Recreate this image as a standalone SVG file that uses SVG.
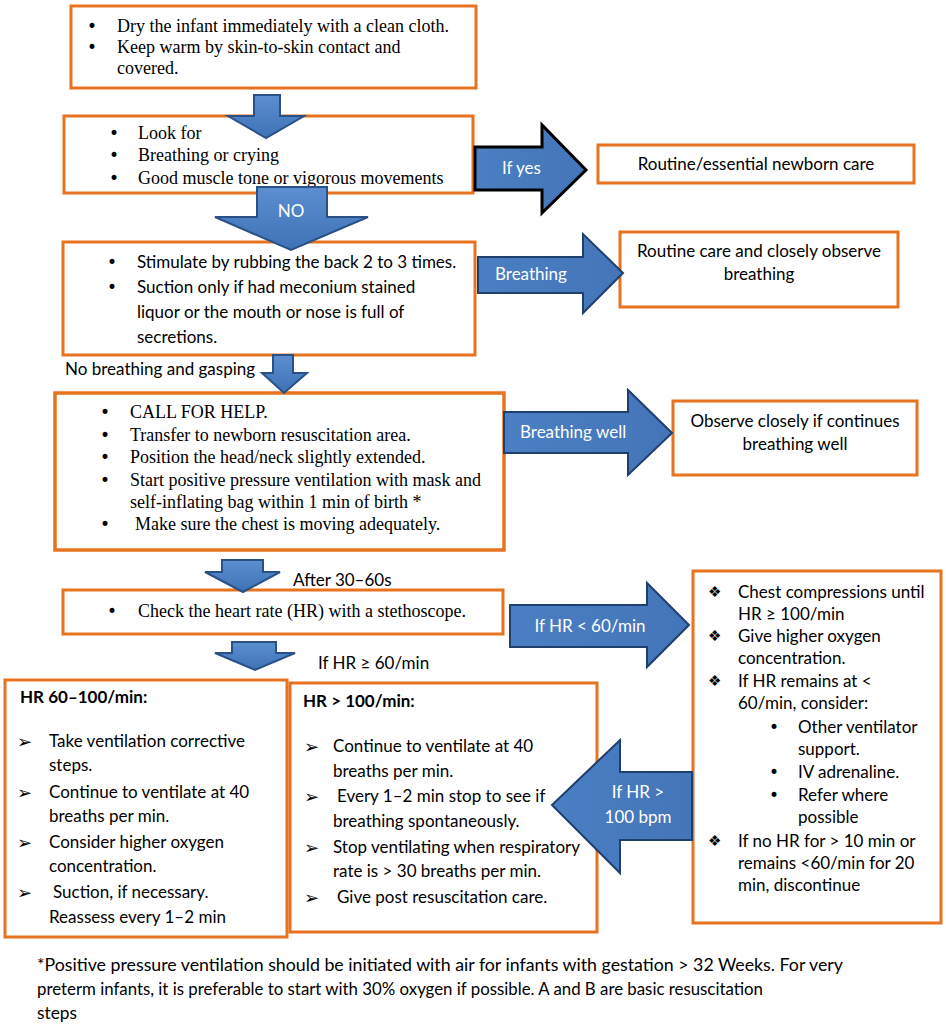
<svg xmlns="http://www.w3.org/2000/svg" width="946" height="1029" viewBox="0 0 946 1029">
<defs>
<linearGradient id="g" x1="0" y1="0" x2="0" y2="1">
<stop offset="0" stop-color="#5b8fd2"/>
<stop offset="1" stop-color="#3f72b4"/>
</linearGradient>
<linearGradient id="gh" x1="0" y1="0" x2="1" y2="0">
<stop offset="0" stop-color="#4a7fc3"/>
<stop offset="1" stop-color="#4475b8"/>
</linearGradient>
</defs>
<style>
.box{fill:#fff;stroke:#e8731f;stroke-width:3}
.ser{font-family:"Liberation Serif","Times New Roman",serif;font-size:18px;fill:#000}
.san{font-family:Lato,"Liberation Sans",Arial,sans-serif;font-size:17px;fill:#000}
.b{font-weight:bold}
.c{text-anchor:middle}
.lbl{font-family:Lato,"Liberation Sans",Arial,sans-serif;font-size:17px;fill:#fff}
.bul{font-family:"DejaVu Sans",sans-serif;font-size:17px;fill:#000}
.sym{font-family:"DejaVu Sans",sans-serif;font-size:15px;fill:#000}
.arr{font-family:"DejaVu Sans",sans-serif;font-size:18px;fill:#000}
.arw{fill:url(#g);stroke:#2a5186;stroke-width:2}
.arh{fill:url(#gh);stroke:#1f3f6e;stroke-width:2}
.foot{font-family:Lato,"Liberation Sans",Arial,sans-serif;font-size:17px;fill:#000}
</style>
<rect width="946" height="1029" fill="#fff"/>

<g id="n1">
<rect class="box" x="71" y="6" width="405" height="82"/>
<text class="bul" x="87" y="32">•</text><text class="ser" x="117" y="32">Dry the infant immediately with a clean cloth.</text>
<text class="bul" x="87" y="53">•</text><text class="ser" x="117" y="53">Keep warm by skin-to-skin contact and</text>
<text class="ser" x="117" y="74">covered.</text>
</g>

<g id="n2">
<rect class="box" x="64" y="116" width="409" height="77"/>
<text class="bul" x="109" y="139">•</text><text class="ser" x="138" y="139">Look for</text>
<text class="bul" x="109" y="161">•</text><text class="ser" x="138" y="161">Breathing or crying</text>
<text class="bul" x="109" y="184">•</text><text class="ser" x="138" y="184">Good muscle tone or vigorous movements</text>
</g>

<g id="n_routine">
<rect class="box" x="598" y="145" width="316" height="38"/>
<text class="san c" x="756" y="170">Routine/essential newborn care</text>
</g>

<g id="n3">
<rect class="box" x="63" y="242" width="412" height="113"/>
<text class="bul" x="107" y="268">•</text><text class="san" x="137" y="268">Stimulate by rubbing the back 2 to 3 times.</text>
<text class="bul" x="107" y="293">•</text><text class="san" x="137" y="293">Suction only if had meconium stained</text>
<text class="san" x="137" y="318">liquor or the mouth or nose is full of</text>
<text class="san" x="137" y="343">secretions.</text>
</g>

<g id="n_observe_breathing">
<rect class="box" x="620" y="232" width="278" height="75"/>
<text class="san c" x="759" y="257">Routine care and closely observe</text>
<text class="san c" x="759" y="280">breathing</text>
</g>

<g id="n4">
<rect class="box" x="55" y="393" width="449" height="157" style="stroke-width:3.5"/>
<text class="bul" x="100" y="418">•</text><text class="ser" x="130" y="418">CALL FOR HELP.</text>
<text class="bul" x="100" y="441">•</text><text class="ser" x="130" y="441">Transfer to newborn resuscitation area.</text>
<text class="bul" x="100" y="463">•</text><text class="ser" x="130" y="463">Position the head/neck slightly extended.</text>
<text class="bul" x="100" y="486">•</text><text class="ser" x="130" y="486">Start positive pressure ventilation with mask and</text>
<text class="ser" x="130" y="508">self-inflating bag within 1 min of birth *</text>
<text class="bul" x="100" y="530">•</text><text class="ser" x="135" y="530">Make sure the chest is moving adequately.</text>
</g>

<g id="n_observe_well">
<rect class="box" x="673" y="401" width="244" height="74"/>
<text class="san c" x="795" y="427">Observe closely if continues</text>
<text class="san c" x="795" y="450">breathing well</text>
</g>

<g id="n5">
<rect class="box" x="63" y="590" width="440" height="44"/>
<text class="bul" x="107" y="617">•</text><text class="ser" x="138" y="617">Check the heart rate (HR) with a stethoscope.</text>
</g>

<g id="n_compress">
<rect class="box" x="693" y="571" width="248" height="352"/>
<text class="sym" x="708" y="597">❖</text><text class="san" x="738" y="598">Chest compressions until</text>
<text class="san" x="738" y="620">HR ≥ 100/min</text>
<text class="sym" x="708" y="641">❖</text><text class="san" x="738" y="642">Give higher oxygen</text>
<text class="san" x="738" y="664">concentration.</text>
<text class="sym" x="708" y="686">❖</text><text class="san" x="738" y="687">If HR remains at &lt;</text>
<text class="san" x="738" y="709">60/min, consider:</text>
<text class="bul" x="769" y="733">•</text><text class="san" x="798" y="733">Other ventilator</text>
<text class="san" x="798" y="755">support.</text>
<text class="bul" x="769" y="778">•</text><text class="san" x="798" y="778">IV adrenaline.</text>
<text class="bul" x="769" y="801">•</text><text class="san" x="798" y="801">Refer where</text>
<text class="san" x="798" y="823">possible</text>
<text class="sym" x="708" y="846">❖</text><text class="san" x="738" y="847">If no HR for &gt; 10 min or</text>
<text class="san" x="738" y="869">remains &lt;60/min for 20</text>
<text class="san" x="738" y="891">min, discontinue</text>
</g>

<g id="n_hr60">
<rect class="box" x="5" y="680" width="282" height="257"/>
<text class="san b" x="20" y="703">HR 60–100/min:</text>
<text class="arr" x="17" y="748">➢</text><text class="san" x="49" y="747">Take ventilation corrective</text>
<text class="san" x="49" y="771">steps.</text>
<text class="arr" x="17" y="799">➢</text><text class="san" x="49" y="798">Continue to ventilate at 40</text>
<text class="san" x="49" y="822">breaths per min.</text>
<text class="arr" x="17" y="849">➢</text><text class="san" x="49" y="848">Consider higher oxygen</text>
<text class="san" x="49" y="872">concentration.</text>
<text class="arr" x="17" y="899">➢</text><text class="san" x="53" y="898">Suction, if necessary.</text>
<text class="san" x="49" y="923">Reassess every 1–2 min</text>
</g>

<g id="n_hr100">
<rect class="box" x="290" y="683" width="307" height="249"/>
<text class="san b" x="303" y="707">HR &gt; 100/min:</text>
<text class="arr" x="304" y="753">➢</text><text class="san" x="333" y="752">Continue to ventilate at 40</text>
<text class="san" x="333" y="777">breaths per min.</text>
<text class="arr" x="304" y="803">➢</text><text class="san" x="337" y="802">Every 1–2 min stop to see if</text>
<text class="san" x="333" y="827">breathing spontaneously.</text>
<text class="arr" x="304" y="854">➢</text><text class="san" x="333" y="853">Stop ventilating when respiratory</text>
<text class="san" x="333" y="877">rate is &gt; 30 breaths per min.</text>
<text class="arr" x="304" y="904">➢</text><text class="san" x="337" y="903">Give post resuscitation care.</text>
</g>

<g id="connectors">
<path class="arw" d="M254,95 H280 V116 H304 L266,138 L228,116 H254 Z"/>
<path class="arw" d="M257,187 H327 V217 H368 L291,250 L215,217 H257 Z"/>
<text class="lbl c" x="291" y="217">NO</text>
<path class="arw" d="M273,355 H293 V373 H307 L284,393 L262,373 H273 Z"/>
<path class="arw" d="M222,560 H263 V572 H280 L243,592 L205,572 H222 Z"/>
<path class="arw" d="M232,642 H276 V653 H295 L255,670 L215,653 H232 Z"/>
<path class="arh" style="stroke:#000;stroke-width:3" d="M475,147 H542 V125 L586,170 L542,213 V190 H475 Z"/>
<text class="lbl" x="502" y="174">If yes</text>
<path class="arh" d="M478,257 H583 V234 L623,273 L583,313 V293 H478 Z"/>
<text class="lbl" x="495" y="280">Breathing</text>
<path class="arh" d="M504,412 H628 V390 L672,433 L628,475 V453 H504 Z"/>
<text class="lbl" x="520" y="438">Breathing well</text>
<path class="arh" d="M510,605 H647 V583 L689,625 L647,667 V647 H510 Z"/>
<text class="lbl c" x="590" y="632">If HR &lt; 60/min</text>
<path class="arh" d="M692,772 H620 V740 L552,805 L620,873 V840 H692 Z"/>
<text class="lbl c" x="638" y="798">If HR &gt;</text>
<text class="lbl c" x="638" y="823">100 bpm</text>
<text class="san" x="65" y="375">No breathing and gasping</text>
<text class="san" x="293" y="586">After 30–60s</text>
<text class="san" x="318" y="669">If HR ≥ 60/min</text>
</g>

<g id="footnote">
<text class="foot" x="37" y="971" textLength="806" lengthAdjust="spacingAndGlyphs">*Positive pressure ventilation should be initiated with air for infants with gestation &gt; 32 Weeks. For very</text>
<text class="foot" x="37" y="995" textLength="726" lengthAdjust="spacingAndGlyphs">preterm infants, it is preferable to start with 30% oxygen if possible. A and B are basic resuscitation</text>
<text class="foot" x="37" y="1019" textLength="40" lengthAdjust="spacingAndGlyphs">steps</text>
</g>
</svg>
